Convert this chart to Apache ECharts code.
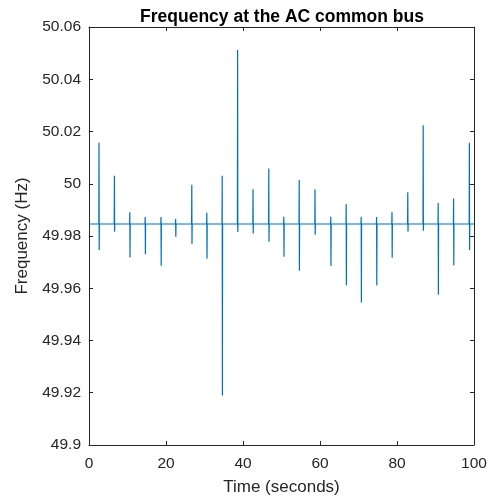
<!DOCTYPE html>
<html>
<head>
<meta charset="utf-8">
<script src="https://cdn.jsdelivr.net/npm/echarts@6/dist/echarts.min.js"></script>
<style>html,body{margin:0;padding:0;background:#fff}#c{width:495px;height:502px}</style>
</head>
<body>
<div id="c"></div>
<script>
// Data
const baseline = 49.9846;
const eventTimes = [2.6, 6.6, 10.6, 14.6, 18.7, 22.5, 26.7, 30.6, 34.6, 38.6, 42.6, 46.7, 50.6, 54.6, 58.7, 62.8, 66.8, 70.7, 74.7, 78.7, 82.8, 86.8, 90.7, 94.7, 98.8];
const eventHighs = [50.0157, 50.0031, 49.9891, 49.9873, 49.9873, 49.9865, 49.9996, 49.9889, 50.0031, 50.0512, 49.9979, 50.0058, 49.9874, 50.0014, 49.9979, 49.9874, 49.9922, 49.9874, 49.9873, 49.9892, 49.9967, 50.0224, 49.9926, 49.9944, 50.0157];
const eventLows = [49.9746, 49.9816, 49.9718, 49.9730, 49.9686, 49.9797, 49.9769, 49.9713, 49.9189, 49.9815, 49.9810, 49.9778, 49.9721, 49.9667, 49.9805, 49.9685, 49.9611, 49.9545, 49.9611, 49.9717, 49.9816, 49.9820, 49.9575, 49.9688, 49.9746];
const xTicks = [0, 20, 40, 60, 80, 100];
const yTicks = [49.9, 49.92, 49.94, 49.96, 49.98, 50, 50.02, 50.04, 50.06];

const series = [[0, baseline]];
eventTimes.forEach((t, i) => {
  series.push([t - 0.05, baseline]);
  series.push([t, eventHighs[i]]);
  series.push([t + 0.05, eventLows[i]]);
  series.push([t + 0.1, baseline]);
});
series.push([100, baseline]);

const font = 'Liberation Sans, Arial, Helvetica, sans-serif';
const axisColor = '#262626';
const chart = echarts.init(document.getElementById('c'), null, {renderer: 'canvas'});
const commonAxis = {
  axisLine: {show: true, onZero: false, lineStyle: {color: axisColor, width: 1}},
  axisTick: {show: true, inside: true, length: 4, lineStyle: {color: axisColor}},
  splitLine: {show: false}
};
chart.setOption({
  animation: false,
  backgroundColor: '#fff',
  title: {
    text: 'Frequency at the AC common bus',
    left: 277, top: 3, textAlign: 'center',
    textStyle: {fontFamily: font, fontSize: 17.5, fontWeight: 'bold', color: '#000'}
  },
  grid: {left: 89, right: 21, top: 27, bottom: 57},
  xAxis: [
    Object.assign({}, commonAxis, {
      type: 'value', min: 0, max: 100, interval: 20, position: 'bottom',
      name: 'Time (seconds)', nameLocation: 'middle', nameGap: 34,
      nameTextStyle: {fontFamily: font, fontSize: 17, color: '#262626'},
      axisLabel: {fontFamily: font, fontSize: 15.5, color: '#262626', margin: 11,
        formatter: v => xTicks.includes(v) ? String(v) : ''}
    }),
    Object.assign({}, commonAxis, {
      type: 'value', min: 0, max: 100, interval: 20, position: 'top',
      axisLabel: {show: false}
    })
  ],
  yAxis: [
    Object.assign({}, commonAxis, {
      type: 'value', min: 49.9, max: 50.06, interval: 0.02, position: 'left',
      name: 'Frequency (Hz)', nameLocation: 'middle', nameGap: 54,
      nameTextStyle: {fontFamily: font, fontSize: 17, color: '#262626'},
      axisLabel: {fontFamily: font, fontSize: 15.5, color: '#262626', margin: 8,
        formatter: v => {
          const r = parseFloat(v.toFixed(2));
          return yTicks.some(t => Math.abs(t - r) < 1e-6) ? String(r) : '';
        }}
    }),
    Object.assign({}, commonAxis, {
      type: 'value', min: 49.9, max: 50.06, interval: 0.02, position: 'right',
      axisLabel: {show: false}
    })
  ],
  series: [{
    type: 'line',
    data: series,
    xAxisIndex: 0, yAxisIndex: 0,
    showSymbol: false,
    symbol: 'none',
    lineStyle: {color: '#0072BD', width: 1.2},
    clip: true
  }]
});
</script>
</body>
</html>
